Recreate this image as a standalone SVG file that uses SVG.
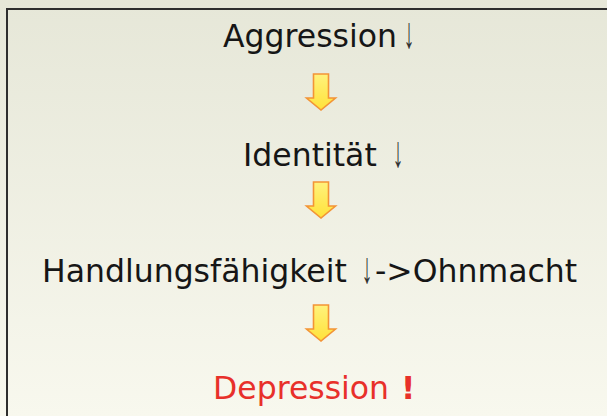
<svg xmlns="http://www.w3.org/2000/svg" width="607" height="416" viewBox="0 0 607 416">
  <defs>
    <linearGradient id="bg" x1="0" y1="0" x2="0" y2="1">
      <stop offset="0" stop-color="#e6e7d8"/>
      <stop offset="1" stop-color="#f8f8ee"/>
    </linearGradient>
    <linearGradient id="yel" x1="0" y1="0" x2="0" y2="1">
      <stop offset="0" stop-color="#fff27c"/>
      <stop offset="1" stop-color="#ffe23a"/>
    </linearGradient>
    <path id="blk" d="M-7.5,0 H7.5 V24 H14.5 L0,36 L-14.5,24 H-7.5 Z"/>
  </defs>
  <style>
    .t { font-family: "DejaVu Sans", Verdana, sans-serif; font-size: 31.5px; fill: #161616; }
    .red { fill: #e8302a; }
    .sm { font-family: "Liberation Sans", Arial, sans-serif; font-size: 44px; fill: #333; text-anchor: middle; }
    .arr { fill: url(#yel); stroke: #f39436; stroke-width: 1.6; stroke-linejoin: miter; }
  </style>
  <rect x="0" y="0" width="607" height="416" fill="url(#bg)"/>
  <rect x="6" y="8" width="601" height="2" fill="#2e2e2e"/>
  <rect x="6" y="8" width="2" height="408" fill="#2e2e2e"/>

  <g id="aggression">
    <text class="t" x="223" y="47">Aggression</text>
    <text class="sm" transform="translate(409,48) scale(0.5,1)">↓</text>
  </g>
  <g id="identitaet">
    <text class="t" x="243" y="166">Identität</text>
    <text class="sm" transform="translate(398,167) scale(0.5,1)">↓</text>
  </g>
  <g id="handlung">
    <text class="t" x="42" y="282">Handlungsfähigkeit</text>
    <text class="sm" transform="translate(367,283) scale(0.5,1)">↓</text>
    <text class="t" x="375" y="282">-&gt;Ohnmacht</text>
  </g>
  <g id="depression">
    <text class="t red" x="213" y="399">Depression</text>
    <text class="t red" x="401" y="399" font-weight="bold">!</text>
  </g>

  <g id="connectors">
    <use href="#blk" class="arr" x="321" y="74"/>
    <use href="#blk" class="arr" x="321" y="182"/>
    <use href="#blk" class="arr" x="321" y="305"/>
  </g>
</svg>
